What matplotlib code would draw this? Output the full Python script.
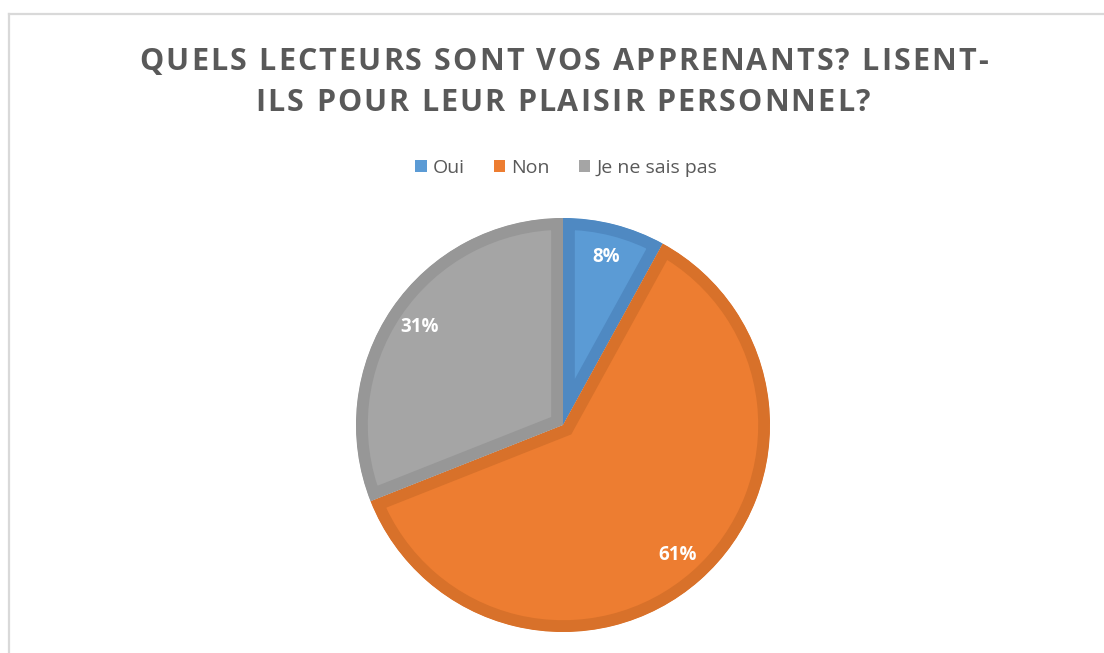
import matplotlib
matplotlib.use("Agg")
import matplotlib.pyplot as plt
from matplotlib.lines import Line2D
from matplotlib.patches import Patch
from matplotlib.font_manager import FontProperties

categories = ["Oui", "Non", "Je ne sais pas"]
values = [8, 61, 31]
colors = ["#5B9BD5", "#ED7D31", "#A5A5A5"]
edge_colors = ["#4F89C2", "#D8712A", "#979797"]
title_lines = ["QUELS LECTEURS SONT VOS APPRENANTS? LISENT-", "ILS POUR LEUR PLAISIR PERSONNEL?"]

W, H = 1104, 653
fig = plt.figure(figsize=(W / 100, H / 100), dpi=100)
fig.patch.set_facecolor("white")

# frame lines (left and top)
fig.add_artist(Line2D([9 / W, 9 / W], [0, 1 - 14 / H], color="#D9D9D9", lw=1.6, transform=fig.transFigure))
fig.add_artist(Line2D([9 / W, 1], [1 - 14 / H, 1 - 14 / H], color="#D9D9D9", lw=1.6, transform=fig.transFigure))

cx, cy, r = 563, 425, 207
ax = fig.add_axes([(cx - r) / W, (H - cy - r) / H, 2 * r / W, 2 * r / H])
wedges, texts, autotexts = ax.pie(
    values, colors=colors, startangle=90, counterclock=False, radius=1,
    autopct=lambda p: f"{p:.0f}%", pctdistance=0.84,
    wedgeprops=dict(linewidth=0),
    textprops=dict(color="white", fontsize=13.5, fontweight="bold", family="Open Sans"))
for w, ec in zip(wedges, edge_colors):
    w.set_edgecolor(ec)
    w.set_linewidth(17)
    w.set_clip_path(w)
    w.set_clip_on(True)
ax.set_xlim(-1, 1)
ax.set_ylim(-1, 1)
ax.set_aspect("equal")
ax.axis("off")

# title with letter spacing
title_fp = FontProperties(family="Open Sans", weight="bold", size=22)
tracking = 2.1  # px between characters
renderer = fig.canvas.get_renderer()

def width_px(s):
    if s == "":
        return 0.0
    w, h, d = renderer.get_text_width_height_descent(s.replace(" ", "\u00a0"), title_fp, ismath=False)
    return w

for line, y in zip(title_lines, [62, 103]):
    n = len(line)
    total = width_px(line) + tracking * (n - 1)
    x0 = cx - total / 2
    for i, ch in enumerate(line):
        if ch == " ":
            continue
        x = x0 + width_px(line[:i]) + tracking * i
        fig.text(x / W, 1 - y / H, ch, ha="left", va="center", fontproperties=title_fp, color="#595959")

handles = [Patch(facecolor=c, edgecolor="none") for c in colors]
fig.legend(handles, categories, loc="center", bbox_to_anchor=(566 / W, 1 - 168 / H), ncol=3,
           frameon=False, handlelength=0.6, handleheight=0.6, handletextpad=0.3, columnspacing=1.5,
           prop=dict(family="Open Sans", size=14), labelcolor="#595959")

fig.savefig("out.png", dpi=100)
